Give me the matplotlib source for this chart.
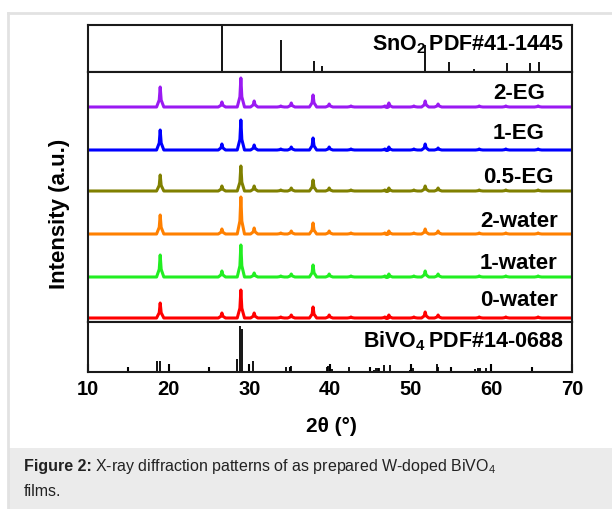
import numpy as np
import matplotlib
matplotlib.use('Agg')
import matplotlib.pyplot as plt
from matplotlib.patches import Rectangle
from matplotlib.lines import Line2D

plt.rcParams['font.family'] = ['Liberation Sans', 'DejaVu Sans']
plt.rcParams['mathtext.fontset'] = 'custom'
plt.rcParams['mathtext.rm'] = 'Liberation Sans'
plt.rcParams['mathtext.bf'] = 'Liberation Sans:bold'
plt.rcParams['mathtext.default'] = 'regular'

W, H = 612, 510

# --- reference patterns (relative intensity) ---
sno2_2theta = [26.6, 33.9, 38.0, 38.95, 42.6, 51.8, 54.8, 57.85, 61.9, 64.75, 65.95, 69.3]
sno2_int = [100, 71, 25, 14, 3, 59, 21, 7, 20, 20, 21, 3]

bivo4_2theta = [15.1, 18.6, 18.9, 28.5, 28.84, 29.08, 30.5, 34.5, 35.2, 37.9,
                39.6, 39.8, 40.0, 40.2, 42.4, 45.4, 45.7, 45.9, 46.1, 46.7,
                47.4, 49.9, 50.3, 53.3, 53.45, 54.6, 55.9, 56.2, 58.0, 58.3,
                58.6, 59.3]
bivo4_int = [3, 23, 23, 28, 100, 93, 24, 11, 13, 2,
             10, 13, 12, 6, 11, 5, 8, 8, 9, 15,
             15, 5, 9, 17, 11, 3, 3, 2, 6, 8,
             8, 8]

# --- film patterns: peak positions shared, heights per sample ---
peak_2theta = [18.95, 26.6, 28.95, 30.6, 33.9, 35.2, 37.9, 39.9, 42.6,
               46.8, 47.3, 50.4, 51.8, 53.4, 58.5, 61.8, 65.8]
samples = ['0-water', '1-water', '2-water', '0.5-EG', '1-EG', '2-EG']
colors = ['#ff0000', '#22ee22', '#ff8000', '#808000', '#0000ff', '#9a1af2']
baselines = [4, 45, 88, 131, 172, 215]
heights = {
    '0-water': [15, 5, 28, 5, 1, 3, 11, 3, 1, 1, 3, 1, 6, 3, 1, 1, 1],
    '1-water': [22, 6, 32, 4, 1, 3, 12, 3, 1, 1, 3, 1, 6, 3, 1, 1, 1],
    '2-water': [19, 5, 37, 6, 1, 3, 11, 3, 1, 1, 3, 1, 5, 3, 1, 1, 1],
    '0.5-EG': [16, 5, 25, 5, 1, 3, 11, 3, 1, 1, 3, 1, 5, 3, 1, 1, 1],
    '1-EG': [20, 6, 30, 5, 1, 3, 12, 3, 1, 1, 3, 1, 6, 2, 1, 1, 1],
    '2-EG': [20, 5, 29, 6, 1, 4, 12, 3, 1, 1, 4, 1, 6, 3, 1, 1, 1],
}
label_y = [22, 59, 101, 145, 189, 229]

HW = 0.45  # peak half width (deg)


def fx(px):
    return px / W


def fy(py):
    return 1 - py / H


def panel(top, bottom):
    return [fx(88), fy(bottom), fx(572) - fx(88), fy(top) - fy(bottom)]


fig = plt.figure(figsize=(W / 100, H / 100), dpi=100)

# page frame and caption box
fig.add_artist(Rectangle((fx(8), fy(510)), 1 - fx(8), fy(449) - fy(510),
                         transform=fig.transFigure, color='#ebebeb', lw=0, zorder=0))
fig.add_artist(Line2D([fx(8), 1], [fy(14), fy(14)], transform=fig.transFigure,
                      color='#e2e2e2', lw=2))
fig.add_artist(Line2D([fx(8), fx(8)], [fy(14), 0], transform=fig.transFigure,
                      color='#e2e2e2', lw=2))

ax_top = fig.add_axes(panel(26, 73))
ax_mid = fig.add_axes(panel(73, 323))
ax_bot = fig.add_axes(panel(323, 373))

for ax in (ax_top, ax_mid, ax_bot):
    ax.set_xlim(10, 70)
    for s in ax.spines.values():
        s.set_linewidth(1.5)
        s.set_color('#1a1a1a')
    ax.set_yticks([])

ax_top.vlines(sno2_2theta, 0, sno2_int, color='black', lw=1.3)
ax_top.set_ylim(0, 103)
ax_top.set_xticks([])
ax_top.text(0.983, 0.6, r'SnO$_\mathbf{2}\,$PDF#41-1445', transform=ax_top.transAxes,
            ha='right', va='center', fontsize=15.5, fontweight='bold')

ax_bot.vlines(bivo4_2theta, 0, bivo4_int, color='black', lw=1.3)
ax_bot.set_ylim(0, 108)
ax_bot.text(0.983, 0.63, r'BiVO$_\mathbf{4}\,$PDF#14-0688', transform=ax_bot.transAxes,
            ha='right', va='center', fontsize=15.5, fontweight='bold')
ax_bot.set_xticks(np.arange(10, 71, 10))
ax_bot.set_xticks(np.arange(15, 70, 10), minor=True)
ax_bot.tick_params(axis='x', which='major', direction='in', length=6, width=1.5,
                   labelsize=14.5, pad=5)
ax_bot.tick_params(axis='x', which='minor', direction='in', length=3.5, width=1.5)
for t in ax_bot.get_xticklabels():
    t.set_fontweight('bold')

for name, col, base, ly in zip(samples, colors, baselines, label_y):
    xs = [10.0]
    ys = [base]
    for p, h in zip(peak_2theta, heights[name]):
        xs += [p - HW, p - 0.12, p, p + 0.12, p + HW]
        ys += [base, base + h * 0.35, base + h, base + h * 0.35, base]
    xs.append(70.0)
    ys.append(base)
    ax_mid.plot(xs, ys, color=col, lw=2.2, solid_joinstyle='round')
    ax_mid.text(63.4, ly, name, ha='center', va='center', fontsize=16, fontweight='bold')
ax_mid.set_ylim(0, 250)
ax_mid.set_xticks([])

fig.text(fx(60), fy(214), 'Intensity (a.u.)', rotation=90, ha='center', va='center',
         fontsize=16, fontweight='bold')
fig.text(fx(331), fy(426), '2θ (°)', ha='center', va='center',
         fontsize=15, fontweight='bold')

cap_bold = fig.text(fx(24), fy(467), 'Figure 2:', ha='left', va='center',
                    fontsize=11.5, fontweight='bold', color='#222222')
fig.canvas.draw()
bb = cap_bold.get_window_extent()
fig.text((bb.x1 + 3) / W, fy(467), 'X-ray diffraction patterns of as prepared W-doped BiVO$_4$',
         ha='left', va='center', fontsize=11.5, color='#222222')
fig.text(fx(24), fy(492), 'films.', ha='left', va='center', fontsize=11.5, color='#222222')

fig.savefig('out.png', dpi=100)
